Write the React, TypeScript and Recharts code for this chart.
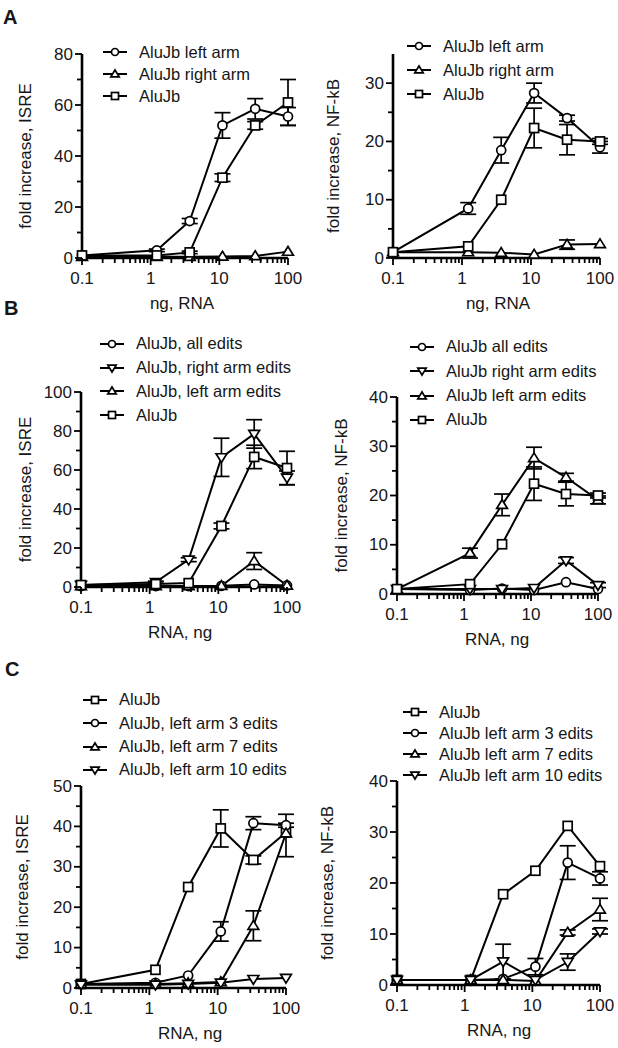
import React from 'react';
import { LineChart, Line, XAxis, YAxis, ErrorBar, Legend } from 'recharts';

const FONT = '"Liberation Sans", Arial, Helvetica, sans-serif';
const INK = '#161616';

// RNA doses (ng): 3-fold dilutions, the 0.1 point is the no-RNA control at the origin
const doses = [0.1, 1.23, 3.7, 11.1, 33.3, 100];

const xTicks = [
  0.1, 0.2, 0.3, 0.4, 0.5, 0.6, 0.7, 0.8, 0.9,
  1, 2, 3, 4, 5, 6, 7, 8, 9,
  10, 20, 30, 40, 50, 60, 70, 80, 90, 100,
];
const xMajor = [0.1, 1, 10, 100];

const yTicks80 = [0, 10, 20, 30, 40, 50, 60, 70, 80];
const yMajor80 = [0, 20, 40, 60, 80];
const yTicks35 = [0, 5, 10, 15, 20, 25, 30];
const yMajor35 = [0, 10, 20, 30];
const yTicks100 = [0, 10, 20, 30, 40, 50, 60, 70, 80, 90, 100];
const yMajor100 = [0, 20, 40, 60, 80, 100];
const yTicks40 = [0, 5, 10, 15, 20, 25, 30, 35, 40];
const yMajor40 = [0, 10, 20, 30, 40];
const yTicks50 = [0, 5, 10, 15, 20, 25, 30, 35, 40, 45, 50];
const yMajor50 = [0, 10, 20, 30, 40, 50];

type Err = number | [number, number];

// A, ISRE
const aIsreLeftArm = [1, 3, 14.5, 52, 58.5, 55.5];
const aIsreLeftArmErr: Err[] = [0, 0.5, 1, 5, 4, 3.5];
const aIsreRightArm = [0.5, 0.5, 0.5, 0.6, 0.8, 2.5];
const aIsreAluJb = [1, 1, 2.2, 31.5, 52, 61];
const aIsreAluJbErr: Err[] = [0, 0, 0.5, 1.5, 1.5, 9];

// A, NF-kB
const aNfkbLeftArm = [1, 8.5, 18.5, 28.3, 24, 19];
const aNfkbLeftArmErr: Err[] = [0, 1, 2.2, 1.7, 0.5, 1];
const aNfkbRightArm = [1, 1, 0.9, 0.6, 2.3, 2.4];
const aNfkbRightArmErr: Err[] = [0, 0, 0, 0, 0.8, 0];
const aNfkbAluJb = [1, 2, 10, 22.3, 20.3, 20];
const aNfkbAluJbErr: Err[] = [0, 0, 0, 3.4, 2.6, 0.5];

// B, ISRE
const bIsreAllEdits = [0.5, 0.5, 0.5, 0.6, 1.3, 0.8];
const bIsreRightEdits = [1, 2.5, 14, 66.5, 78.5, 56];
const bIsreRightEditsErr: Err[] = [0, 0.5, 1, 9.8, 7.3, 3.5];
const bIsreLeftEdits = [0.5, 0.5, 0.5, 0.6, 13.3, 0.8];
const bIsreLeftEditsErr: Err[] = [0, 0, 0, 0, 4.3, 0];
const bIsreAluJb = [1, 1.5, 2, 31.3, 66.7, 61];
const bIsreAluJbErr: Err[] = [0, 0, 0, 1.5, 6, 8.6];

// B, NF-kB
const bNfkbAllEdits = [1, 0.8, 1.1, 0.8, 2.4, 1];
const bNfkbRightEdits = [1, 1, 1, 1.2, 6.8, 1.8];
const bNfkbRightEditsErr: Err[] = [0, 0, 0, 0, 0.6, 0.5];
const bNfkbLeftEdits = [1, 8.3, 18.1, 27.6, 23.7, 19.1];
const bNfkbLeftEditsErr: Err[] = [0, 1, 2.2, 2.2, 0.8, 0.8];
const bNfkbAluJb = [1, 2, 10.1, 22.4, 20.3, 20];
const bNfkbAluJbErr: Err[] = [0, 0, 0, 3.4, 2.4, 0.5];

// C, ISRE
const cIsreAluJb = [1, 4.5, 25, 39.5, 31.7, 38.5];
const cIsreAluJbErr: Err[] = [0, 0, 0, 4.6, 1, [6, 4.5]];
const cIsreEdits3 = [1, 1.3, 3.1, 14, 40.8, 40.3];
const cIsreEdits3Err: Err[] = [0, 0, 0, 2.4, 1.6, 0.5];
const cIsreEdits7 = [1, 1, 1.2, 1.5, 15.4, 38.3];
const cIsreEdits7Err: Err[] = [0, 0, 0, 0, 3.7, 0];
const cIsreEdits10 = [0.8, 0.8, 1, 1.3, 2.2, 2.5];

// C, NF-kB
const cNfkbAluJb = [1, 1, 17.8, 22.4, 31.2, 23.3];
const cNfkbEdits3 = [1, 1, 1.2, 3.6, 24, 20.9];
const cNfkbEdits3Err: Err[] = [0, 0, 0, 1.6, 3.3, 1.3];
const cNfkbEdits7 = [1, 1, 1, 0.8, 10.3, 14.8];
const cNfkbEdits7Err: Err[] = [0, 0, 0, 0, 0.5, 2.2];
const cNfkbEdits10 = [1, 1, 4.6, 1, 4.5, 10.5];
const cNfkbEdits10Err: Err[] = [0, 0, 3.4, 0, 1.6, 0.5];

type Shape = 'circle' | 'square' | 'up' | 'down';

interface Series {
  name: string;
  shape: Shape;
  values: number[];
  err?: Err[];
}

function Marker({ cx, cy, shape, r }: { cx: number; cy: number; shape: Shape; r: number }) {
  const st = { fill: '#fff', stroke: '#000', strokeWidth: 1.7 };
  if (cx == null || cy == null) return null;
  if (shape === 'circle') return <circle cx={cx} cy={cy} r={r} {...st} />;
  if (shape === 'square') return <rect x={cx - r} y={cy - r} width={2 * r} height={2 * r} {...st} />;
  const w = r * 1.2;
  if (shape === 'up')
    return <polygon points={`${cx},${cy - r * 1.15} ${cx + w},${cy + r * 0.8} ${cx - w},${cy + r * 0.8}`} {...st} />;
  return <polygon points={`${cx},${cy + r * 1.15} ${cx + w},${cy - r * 0.8} ${cx - w},${cy - r * 0.8}`} {...st} />;
}

const AxisTitle = ({ tx, ty, rotate, text }: any) => (
  <text
    x={tx}
    y={ty}
    textAnchor="middle"
    dominantBaseline="central"
    transform={rotate ? `rotate(-90 ${tx} ${ty})` : undefined}
    fontFamily={FONT}
    fontSize={17}
    fill={INK}
  >
    {text}
  </text>
);

const XTick = (props: any) => {
  const { x, y, payload } = props;
  const v = payload.value;
  const major = xMajor.includes(v);
  return (
    <g>
      <line x1={x} x2={x} y1={y} y2={y + (major ? 7 : 5)} stroke="#000" strokeWidth={1.8} />
      {major && (
        <text x={x} y={y + 20} textAnchor="middle" dominantBaseline="central" fontFamily={FONT} fontSize={17} fill={INK}>
          {String(v)}
        </text>
      )}
    </g>
  );
};

const YTick = (props: any) => {
  const { x, y, payload, majors } = props;
  const v = payload.value;
  const major = majors.includes(v);
  return (
    <g>
      <line x1={x - (major ? 7 : 5)} x2={x} y1={y} y2={y} stroke="#000" strokeWidth={1.8} />
      {major && (
        <text x={x - 9} y={y} textAnchor="end" dominantBaseline="central" fontFamily={FONT} fontSize={17} fill={INK}>
          {String(v)}
        </text>
      )}
    </g>
  );
};

interface PanelProps {
  left: number;
  top: number;
  width: number;
  height: number;
  plot: [number, number, number, number]; // x0, x1, yTop, yBottom (page px)
  yMax: number;
  yTicks: number[];
  yMajor: number[];
  yTitle: string;
  yTitleX: number;
  xTitle: string;
  xTitleX: number;
  series: Series[];
  legend: { x: number; y: number; row: number };
}

function Panel(p: PanelProps) {
  const [x0, x1, y0, y1] = p.plot;
  const xAxisH = 55;
  const margin = {
    top: y0 - p.top,
    right: p.left + p.width - x1,
    bottom: p.top + p.height - y1 - xAxisH,
    left: 0,
  };
  const yAxisW = x0 - p.left;

  const data = doses.map((x, i) => {
    const row: any = { x };
    p.series.forEach((s, k) => {
      row[`v${k}`] = s.values[i];
      if (s.err) row[`e${k}`] = s.err[i];
    });
    return row;
  });

  const midY = (y0 + y1) / 2 - p.top;

  return (
    <div style={{ position: 'absolute', left: p.left, top: p.top }}>
      <LineChart width={p.width} height={p.height} data={data} margin={margin}>
        <XAxis
          dataKey="x"
          type="number"
          scale="log"
          domain={[0.1, 100]}
          ticks={xTicks}
          interval={0}
          height={xAxisH}
          tickSize={0}
          tickMargin={0}
          tickLine={false}
          axisLine={{ stroke: '#000', strokeWidth: 2.6 }}
          tick={<XTick />}
          label={<AxisTitle tx={p.xTitleX - p.left} ty={y1 - p.top + 45} text={p.xTitle} />}
        />
        <YAxis
          type="number"
          domain={[0, p.yMax]}
          ticks={p.yTicks}
          interval={0}
          width={yAxisW}
          tickSize={0}
          tickMargin={0}
          tickLine={false}
          axisLine={{ stroke: '#000', strokeWidth: 2.6 }}
          tick={(tp: any) => <YTick {...tp} majors={p.yMajor} />}
          label={<AxisTitle tx={p.yTitleX - p.left} ty={midY} rotate text={p.yTitle} />}
        />
        <Legend
          layout="vertical"
          align="center"
          verticalAlign="middle"
          wrapperStyle={{
            left: p.legend.x - p.left,
            top: p.legend.y - p.legend.row / 2 - p.top,
            width: 250,
            height: 'auto',
          }}
          content={() => (
            <div style={{ fontFamily: FONT, fontSize: 16.5, color: INK }}>
              {p.series.map((s) => (
                <div key={s.name} style={{ display: 'flex', alignItems: 'center', height: p.legend.row, whiteSpace: 'nowrap' }}>
                  <svg width={24} height={12} style={{ marginRight: 12, flex: 'none' }}>
                    <line x1={0} x2={24} y1={6} y2={6} stroke="#000" strokeWidth={2} />
                    <Marker cx={12} cy={6} shape={s.shape} r={3.5} />
                  </svg>
                  <span>{s.name}</span>
                </div>
              ))}
            </div>
          )}
        />
        {p.series.map((s, k) => (
          <Line
            key={s.name}
            dataKey={`v${k}`}
            type="linear"
            stroke="#000"
            strokeWidth={2}
            isAnimationActive={false}
            activeDot={false}
            dot={(dp: any) => <Marker key={`m${k}-${dp.index}`} cx={dp.cx} cy={dp.cy} shape={s.shape} r={4.5} />}
          >
            {s.err && <ErrorBar dataKey={`e${k}`} direction="y" width={8} stroke="#000" strokeWidth={1.7} />}
          </Line>
        ))}
      </LineChart>
    </div>
  );
}

const letterStyle: React.CSSProperties = {
  position: 'absolute',
  fontFamily: FONT,
  fontWeight: 'bold',
  fontSize: 20,
  lineHeight: '20px',
  color: INK,
};

export default function App() {
  return (
    <div style={{ position: 'relative', width: 618, height: 1048, background: '#fff', overflow: 'hidden' }}>
      <style>{'body{margin:0}'}</style>
      <div style={{ ...letterStyle, left: 3, top: 7 }}>A</div>
      <div style={{ ...letterStyle, left: 4, top: 298 }}>B</div>
      <div style={{ ...letterStyle, left: 5, top: 659 }}>C</div>

      <Panel
        left={0} top={0} width={305} height={320}
        plot={[82, 288, 54, 258]}
        yMax={80} yTicks={yTicks80} yMajor={yMajor80}
        yTitle="fold increase, ISRE" yTitleX={25}
        xTitle="ng, RNA" xTitleX={182}
        legend={{ x: 103, y: 52, row: 22 }}
        series={[
          { name: 'AluJb left arm', shape: 'circle', values: aIsreLeftArm, err: aIsreLeftArmErr },
          { name: 'AluJb right arm', shape: 'up', values: aIsreRightArm },
          { name: 'AluJb', shape: 'square', values: aIsreAluJb, err: aIsreAluJbErr },
        ]}
      />
      <Panel
        left={305} top={0} width={313} height={320}
        plot={[393, 600, 54, 258]}
        yMax={35} yTicks={yTicks35} yMajor={yMajor35}
        yTitle="fold increase, NF-kB" yTitleX={333}
        xTitle="ng, RNA" xTitleX={498}
        legend={{ x: 407, y: 46, row: 24 }}
        series={[
          { name: 'AluJb left arm', shape: 'circle', values: aNfkbLeftArm, err: aNfkbLeftArmErr },
          { name: 'AluJb right arm', shape: 'up', values: aNfkbRightArm, err: aNfkbRightArmErr },
          { name: 'AluJb', shape: 'square', values: aNfkbAluJb, err: aNfkbAluJbErr },
        ]}
      />

      <Panel
        left={0} top={318} width={305} height={342}
        plot={[81, 287, 392, 587]}
        yMax={100} yTicks={yTicks100} yMajor={yMajor100}
        yTitle="fold increase, ISRE" yTitleX={25}
        xTitle="RNA, ng" xTitleX={180}
        legend={{ x: 100, y: 344, row: 23.7 }}
        series={[
          { name: 'AluJb, all edits', shape: 'circle', values: bIsreAllEdits },
          { name: 'AluJb, right arm edits', shape: 'down', values: bIsreRightEdits, err: bIsreRightEditsErr },
          { name: 'AluJb, left arm edits', shape: 'up', values: bIsreLeftEdits, err: bIsreLeftEditsErr },
          { name: 'AluJb', shape: 'square', values: bIsreAluJb, err: bIsreAluJbErr },
        ]}
      />
      <Panel
        left={305} top={318} width={313} height={342}
        plot={[397, 598, 397, 594]}
        yMax={40} yTicks={yTicks40} yMajor={yMajor40}
        yTitle="fold increase, NF-kB" yTitleX={341}
        xTitle="RNA, ng" xTitleX={497}
        legend={{ x: 410, y: 347, row: 24.3 }}
        series={[
          { name: 'AluJb all edits', shape: 'circle', values: bNfkbAllEdits },
          { name: 'AluJb right arm edits', shape: 'down', values: bNfkbRightEdits, err: bNfkbRightEditsErr },
          { name: 'AluJb left arm edits', shape: 'up', values: bNfkbLeftEdits, err: bNfkbLeftEditsErr },
          { name: 'AluJb', shape: 'square', values: bNfkbAluJb, err: bNfkbAluJbErr },
        ]}
      />

      <Panel
        left={0} top={650} width={305} height={398}
        plot={[81, 286, 786, 988]}
        yMax={50} yTicks={yTicks50} yMajor={yMajor50}
        yTitle="fold increase, ISRE" yTitleX={22}
        xTitle="RNA, ng" xTitleX={190}
        legend={{ x: 83, y: 700, row: 23.3 }}
        series={[
          { name: 'AluJb', shape: 'square', values: cIsreAluJb, err: cIsreAluJbErr },
          { name: 'AluJb, left arm 3 edits', shape: 'circle', values: cIsreEdits3, err: cIsreEdits3Err },
          { name: 'AluJb, left arm 7 edits', shape: 'up', values: cIsreEdits7, err: cIsreEdits7Err },
          { name: 'AluJb, left arm 10 edits', shape: 'down', values: cIsreEdits10 },
        ]}
      />
      <Panel
        left={305} top={650} width={313} height={398}
        plot={[397, 600, 781, 985]}
        yMax={40} yTicks={yTicks40} yMajor={yMajor40}
        yTitle="fold increase, NF-kB" yTitleX={327}
        xTitle="RNA, ng" xTitleX={499}
        legend={{ x: 403, y: 712, row: 21 }}
        series={[
          { name: 'AluJb', shape: 'square', values: cNfkbAluJb },
          { name: 'AluJb left arm 3 edits', shape: 'circle', values: cNfkbEdits3, err: cNfkbEdits3Err },
          { name: 'AluJb left arm 7 edits', shape: 'up', values: cNfkbEdits7, err: cNfkbEdits7Err },
          { name: 'AluJb left arm 10 edits', shape: 'down', values: cNfkbEdits10, err: cNfkbEdits10Err },
        ]}
      />
    </div>
  );
}
